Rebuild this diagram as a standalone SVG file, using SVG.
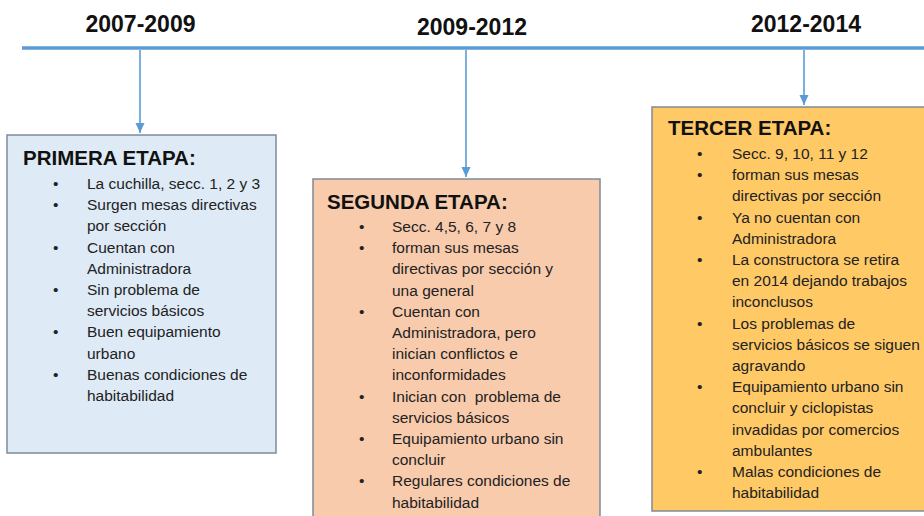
<svg xmlns="http://www.w3.org/2000/svg" width="924" height="516" viewBox="0 0 924 516">
<style>
.year{font-family:"Liberation Sans",Arial,sans-serif;font-weight:bold;font-size:23px;fill:#111;}
.title{font-family:"Liberation Sans",Arial,sans-serif;font-weight:bold;font-size:20.5px;fill:#111;}
.body{font-family:"Liberation Sans",Arial,sans-serif;font-size:15.5px;fill:#222;}
.box{stroke:#7F8A99;stroke-width:1.5;}
.conn{stroke:#5B9BD5;stroke-width:1.6;fill:none;}
</style>
<defs>
<marker id="ah" markerUnits="userSpaceOnUse" markerWidth="10" markerHeight="10" refX="10" refY="4.5" orient="auto">
<path d="M0,0 L10,4.5 L0,9 z" fill="#5B9BD5"/>
</marker>
</defs>
<rect width="924" height="516" fill="#ffffff"/>
<g id="timeline">
<line x1="22" y1="48" x2="924" y2="48" stroke="#5B9BD5" stroke-width="3.5"/>
<text class="year" x="140.5" y="32" text-anchor="middle">2007-2009</text>
<text class="year" x="472" y="35" text-anchor="middle">2009-2012</text>
<text class="year" x="806" y="32" text-anchor="middle">2012-2014</text>
</g>
<g id="connectors">
<line class="conn" x1="140" y1="50" x2="140" y2="133" marker-end="url(#ah)"/>
<line class="conn" x1="466" y1="50" x2="466" y2="177" marker-end="url(#ah)"/>
<line class="conn" x1="804" y1="50" x2="804" y2="105" marker-end="url(#ah)"/>
</g>
<g id="primera">
<rect class="box" x="7" y="135" width="269" height="318" fill="#DEEBF7"/>
<text class="title" x="23" y="165">PRIMERA ETAPA:</text>
<text class="body">
<tspan x="53" y="189">•</tspan><tspan x="87" y="189">La cuchilla, secc. 1, 2 y 3</tspan>
<tspan x="53" y="210.2">•</tspan><tspan x="87" y="210.2">Surgen mesas directivas</tspan>
<tspan x="87" y="231.4">por sección</tspan>
<tspan x="53" y="252.6">•</tspan><tspan x="87" y="252.6">Cuentan con</tspan>
<tspan x="87" y="273.8">Administradora</tspan>
<tspan x="53" y="295">•</tspan><tspan x="87" y="295">Sin problema de</tspan>
<tspan x="87" y="316.2">servicios básicos</tspan>
<tspan x="53" y="337.4">•</tspan><tspan x="87" y="337.4">Buen equipamiento</tspan>
<tspan x="87" y="358.6">urbano</tspan>
<tspan x="53" y="379.8">•</tspan><tspan x="87" y="379.8">Buenas condiciones de</tspan>
<tspan x="87" y="401">habitabilidad</tspan>
</text>
</g>
<g id="segunda">
<rect class="box" x="313" y="179" width="287" height="345" fill="#F8CBAD"/>
<text class="title" x="327" y="209">SEGUNDA ETAPA:</text>
<text class="body">
<tspan x="359" y="232">•</tspan><tspan x="392" y="232">Secc. 4,5, 6, 7 y 8</tspan>
<tspan x="359" y="253.2">•</tspan><tspan x="392" y="253.2">forman sus mesas</tspan>
<tspan x="392" y="274.4">directivas por sección y</tspan>
<tspan x="392" y="295.6">una general</tspan>
<tspan x="359" y="316.8">•</tspan><tspan x="392" y="316.8">Cuentan con</tspan>
<tspan x="392" y="338">Administradora, pero</tspan>
<tspan x="392" y="359.2">inician conflictos e</tspan>
<tspan x="392" y="380.4">inconformidades</tspan>
<tspan x="359" y="401.6">•</tspan><tspan x="392" y="401.6">Inician con &#160;problema de</tspan>
<tspan x="392" y="422.8">servicios básicos</tspan>
<tspan x="359" y="444">•</tspan><tspan x="392" y="444">Equipamiento urbano sin</tspan>
<tspan x="392" y="465.2">concluir</tspan>
<tspan x="359" y="486.4">•</tspan><tspan x="392" y="486.4">Regulares condiciones de</tspan>
<tspan x="392" y="507.6">habitabilidad</tspan>
</text>
</g>
<g id="tercer">
<rect class="box" x="652" y="107" width="280" height="404" fill="#FFC966"/>
<text class="title" x="668" y="135">TERCER ETAPA:</text>
<text class="body">
<tspan x="697" y="159">•</tspan><tspan x="732" y="159">Secc. 9, 10, 11 y 12</tspan>
<tspan x="697" y="180.2">•</tspan><tspan x="732" y="180.2">forman sus mesas</tspan>
<tspan x="732" y="201.4">directivas por sección</tspan>
<tspan x="697" y="222.6">•</tspan><tspan x="732" y="222.6">Ya no cuentan con</tspan>
<tspan x="732" y="243.8">Administradora</tspan>
<tspan x="697" y="265">•</tspan><tspan x="732" y="265">La constructora se retira</tspan>
<tspan x="732" y="286.2">en 2014 dejando trabajos</tspan>
<tspan x="732" y="307.4">inconclusos</tspan>
<tspan x="697" y="328.6">•</tspan><tspan x="732" y="328.6">Los problemas de</tspan>
<tspan x="732" y="349.8">servicios básicos se siguen</tspan>
<tspan x="732" y="371">agravando</tspan>
<tspan x="697" y="392.2">•</tspan><tspan x="732" y="392.2">Equipamiento urbano sin</tspan>
<tspan x="732" y="413.4">concluir y ciclopistas</tspan>
<tspan x="732" y="434.6">invadidas por comercios</tspan>
<tspan x="732" y="455.8">ambulantes</tspan>
<tspan x="697" y="477">•</tspan><tspan x="732" y="477">Malas condiciones de</tspan>
<tspan x="732" y="498.2">habitabilidad</tspan>
</text>
</g>
</svg>
